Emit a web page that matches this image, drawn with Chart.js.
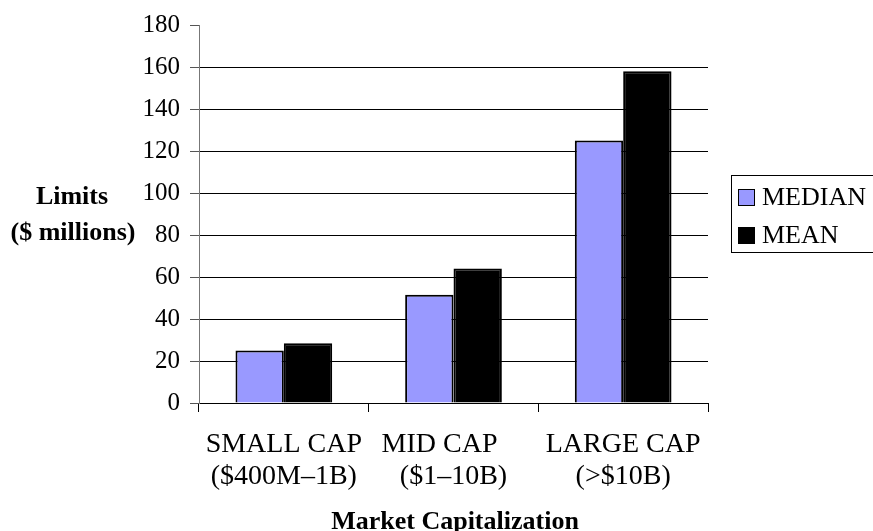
<!DOCTYPE html>
<html>
<head>
<meta charset="utf-8">
<script src="https://cdn.jsdelivr.net/npm/chart.js@4/dist/chart.umd.min.js"></script>
<style>
  html, body { margin: 0; padding: 0; background: #fff; }
  #wrap { width: 873px; height: 531px; position: relative; }
</style>
</head>
<body>
<div id="wrap"><canvas id="capChart"></canvas></div>
<script>
// chart data
const categories = [
    ['SMALL CAP', '($400M\u20131B)'],
    ['MID CAP    ', '($1\u201310B)'],
    ['LARGE CAP', '(>$10B)']
];
const seriesNames = ['MEDIAN', 'MEAN'];
const medianValues = [25, 51.5, 125];
const meanValues = [28.5, 64, 158];
const yTicks = [0, 20, 40, 60, 80, 100, 120, 140, 160, 180];

const serif = "'Liberation Serif', 'Times New Roman', serif";

// axis titles + legend drawn by hand, like the original sheet
const extras = {
    id: 'extras',
    afterDraw(chart) {
        const ctx = chart.ctx;
        ctx.save();
        ctx.fillStyle = '#000';
        ctx.textAlign = 'center';
        ctx.textBaseline = 'middle';
        ctx.font = 'bold 26px ' + serif;
        ctx.fillText('Limits', 72, 197);
        ctx.fillText('($ millions)', 73, 233);
        ctx.fillText('Market Capitalization', 455, 522);

        // legend box
        ctx.strokeStyle = '#000';
        ctx.lineWidth = 1;
        ctx.strokeRect(731.5, 175.5, 160, 77);
        ctx.font = '26px ' + serif;
        ctx.textAlign = 'left';
        chart.data.datasets.forEach((ds, i) => {
            const cy = 197 + i * 38;
            ctx.fillStyle = ds.backgroundColor;
            ctx.fillRect(738, cy - 8, 17, 17);
            ctx.strokeRect(738.5, cy - 7.5, 16, 16);
            ctx.fillStyle = '#000';
            ctx.fillText(ds.label, 762, cy + 1);
        });
        ctx.restore();
    }
};

new Chart(document.getElementById('capChart'), {
    type: 'bar',
    data: {
        labels: categories,
        datasets: [{
            label: seriesNames[0],
            data: medianValues,
            backgroundColor: '#9999ff',
            borderColor: '#000',
            borderWidth: 2
        }, {
            label: seriesNames[1],
            data: meanValues,
            backgroundColor: '#000',
            borderColor: '#000',
            borderWidth: 2
        }]
    },
    options: {
        responsive: true,
        maintainAspectRatio: false,
        animation: false,
        layout: { padding: { left: 0, right: 165, top: 24, bottom: 0 } },
        plugins: { legend: { display: false }, tooltip: { enabled: false } },
        datasets: { bar: { barPercentage: 1, categoryPercentage: 0.57 } },
        scales: {
            x: {
                afterFit: s => { s.height = 128; },
                grid: { offset: true, drawOnChartArea: false, color: '#000', tickLength: 9 },
                border: { color: '#000', width: 1 },
                ticks: {
                    color: '#000', padding: 17, autoSkip: false, minRotation: 0, maxRotation: 0,
                    font: { family: serif, size: 28, lineHeight: 1.14 }
                }
            },
            y: {
                min: 0,
                max: 180,
                afterFit: s => { s.width = 199; },
                afterBuildTicks: s => { s.ticks = yTicks.map(v => ({ value: v })); },
                grid: {
                    color: c => (c.tick && c.tick.value === 180) ? 'rgba(0,0,0,0)' : '#000',
                    tickColor: '#555',
                    tickLength: 9
                },
                border: { color: '#777', width: 1 },
                ticks: { color: '#000', padding: 10, font: { family: serif, size: 25 } }
            }
        }
    },
    plugins: [extras]
});
</script>
</body>
</html>
